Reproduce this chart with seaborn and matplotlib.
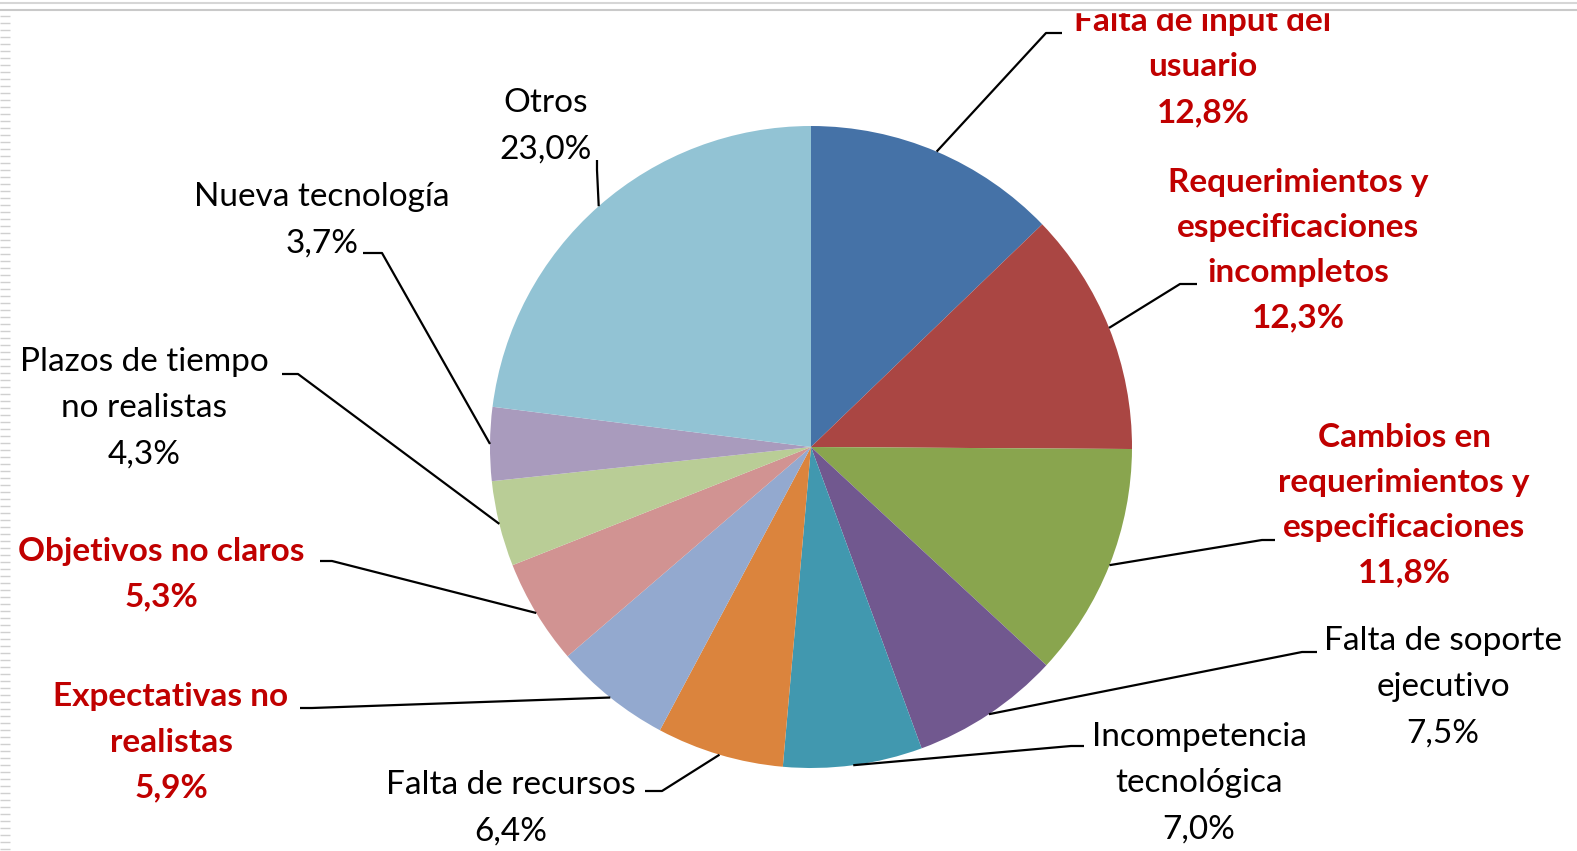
import numpy as np
import matplotlib
matplotlib.use("Agg")
import matplotlib.pyplot as plt
import seaborn as sns

sns.set_theme(style="white")
plt.rcParams['font.family'] = ['Lato', 'DejaVu Sans']

# ---- data ----
categories = [
    "Falta de input del\nusuario",
    "Requerimientos y\nespecificaciones\nincompletos",
    "Cambios en\nrequerimientos y\nespecificaciones",
    "Falta de soporte\nejecutivo",
    "Incompetencia\ntecnológica",
    "Falta de recursos",
    "Expectativas no\nrealistas",
    "Objetivos no claros",
    "Plazos de tiempo\nno realistas",
    "Nueva tecnología",
    "Otros",
]
values = [12.8, 12.3, 11.8, 7.5, 7.0, 6.4, 5.9, 5.3, 4.3, 3.7, 23.0]
highlight = [True, True, True, False, False, False, True, True, False, False, False]
colors = ["#4572A7", "#AA4643", "#89A54E", "#71588F", "#4198AF", "#DB843D",
          "#93A9CF", "#D19392", "#B9CD96", "#A99BBD", "#92C3D4"]

# ---- layout (pixel coords, y from top) ----
W, H = 1577, 851
cx, cy, R = 811, 447, 321
text_pos = [(1203, 67), (1298, 250), (1404, 505), (1443, 687), (1199, 783),
            (511, 808), (171, 742), (161, 574), (144, 408), (322, 220), (546, 126)]
elbows = [(1046, 33), (1180, 284), (1262, 540), (1302, 652), (1071, 746),
          (662, 791), (312, 708), (332, 561), (298, 374), (382, 253), (597, 170)]
ends = [(1062, 33), (1197, 284), (1275, 540), (1317, 652), (1084, 746),
        (645, 791), (300, 708), (320, 561), (282, 374), (363, 253), (597, 160)]

fig = plt.figure(figsize=(W / 100, H / 100), dpi=100)
ax = fig.add_axes([0, 0, 1, 1])
ax.set_xlim(0, W)
ax.set_ylim(0, H)
ax.set_aspect('equal')
ax.axis('off')

def Y(y):
    return H - y

wedges, _ = ax.pie(values, colors=colors, startangle=90, counterclock=False,
                   center=(cx, Y(cy)), radius=R,
                   wedgeprops=dict(linewidth=0))
ax.set_xlim(0, W)
ax.set_ylim(0, H)

for i, w in enumerate(wedges):
    ang = np.deg2rad((w.theta1 + w.theta2) / 2)
    px = cx + R * np.cos(ang)
    py = Y(cy) + R * np.sin(ang)
    ex, ey = elbows[i]
    nx, ny = ends[i]
    ax.plot([px, ex, nx], [py, Y(ey), Y(ny)], color="black", lw=1.6,
            solid_capstyle='butt', zorder=3)
    pct = f"{values[i]:.1f}%".replace(".", ",")
    label = categories[i] + "\n" + pct
    tx, ty = text_pos[i]
    if highlight[i]:
        ax.text(tx, Y(ty), label, ha="center", va="center", fontsize=24,
                color="#C00000", fontweight="bold", linespacing=1.68, zorder=4)
    else:
        ax.text(tx, Y(ty), label, ha="center", va="center", fontsize=24,
                color="black", linespacing=1.68, zorder=4)

# slide decoration: top border lines and left stripes
ax.add_patch(plt.Rectangle((0, Y(12)), W, 12, color="white", zorder=10))
ax.hlines([Y(2.5), Y(10)], 0, W, colors=["#d6d6d6", "#c9c9c9"], lw=1.5, zorder=11)
ax.hlines([Y(v) for v in np.arange(16, H, 7)], 0, 10, colors="#d0d0d0", lw=1, zorder=11)

fig.savefig("out.png", dpi=100)
